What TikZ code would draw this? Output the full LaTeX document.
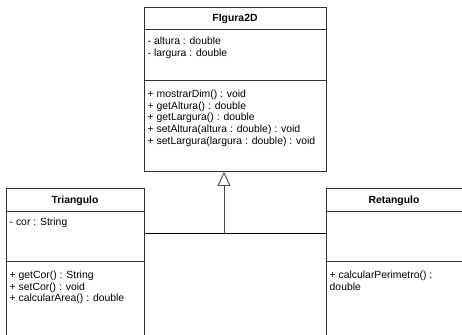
\documentclass[tikz,border=0pt]{standalone}
\usepackage{fontspec}
\setmainfont{Liberation Sans}
\usetikzlibrary{arrows.meta}
\begin{document}
\begin{tikzpicture}[x=1pt,y=-1pt,
  umlbox/.style={draw=black!80, line width=0.9pt, fill=white, rectangle, anchor=north west, inner sep=0pt},
  sep/.style={draw=black!80, line width=0.9pt},
  title/.style={font=\fontsize{10.4}{12}\selectfont\bfseries, anchor=base, inner sep=0pt},
  txt/.style={font=\fontsize{10.4}{12}\selectfont, anchor=base west, inner sep=0pt, align=left},
  conn/.style={draw=black, line width=0.8pt},
  inh/.style={draw=black!70, line width=0.9pt, -{Triangle[open, length=14pt, width=13pt]}}
]
\useasboundingbox (0,0) rectangle (462,334);
\clip (0,0) rectangle (462,334);
\fill[white] (0,0) rectangle (462,334);
% boxes
\node[umlbox, minimum width=182pt, minimum height=164pt] (fig) at (144,7) {};
\node[umlbox, minimum width=138pt, minimum height=160pt] (tri) at (6,188) {};
\node[umlbox, minimum width=138pt, minimum height=160pt] (ret) at (326,188) {};
% separators
\draw[sep] (144,29) -- (326,29);
\draw[sep] (144,80) -- (326,80);
\draw[sep] (6,211) -- (144,211);
\draw[sep] (6,261) -- (144,261);
\draw[sep] (326,211) -- (470,211);
\draw[sep] (326,261) -- (470,261);
% titles
\node[title] (figt) at (235,21.5) {FIgura2D};
\node[title] (trit) at (75,203.5) {Triangulo};
\node[title] (rett) at (394,203.5) {Retangulo};
% Figura2D attributes
\node[txt] (figa1) at (147.5,44.5) {- altura : double};
\node[txt] (figa2) at (147.5,56.5) {- largura : double};
% Figura2D methods
\node[txt] (figm1) at (147.5,97.5) {+ mostrarDim() : void};
\node[txt] (figm2) at (147.5,109) {+ getAltura() : double};
\node[txt] (figm3) at (147.5,120.5) {+ getLargura() : double};
\node[txt] (figm4) at (147.5,132.5) {+ setAltura(altura : double) : void};
\node[txt] (figm5) at (147.5,144) {+ setLargura(largura : double) : void};
% Triangulo
\node[txt] (tria1) at (9.5,225.5) {- cor : String};
\node[txt] (trim1) at (9.5,278.5) {+ getCor() : String};
\node[txt] (trim2) at (9.5,290) {+ setCor() : void};
\node[txt] (trim3) at (9.5,301.5) {+ calcularArea() : double};
% Retangulo
\node[txt] (retm1) at (329.5,278.5) {+ calcularPerimetro() :};
\node[txt] (retm2) at (329.5,290.5) {double};
% connectors
\coordinate (jn) at (224,233.5);
\draw[conn] (tri.east |- jn) -- (ret.west |- jn);
\draw[inh] (jn) -- (jn |- fig.south);
\end{tikzpicture}
\end{document}
